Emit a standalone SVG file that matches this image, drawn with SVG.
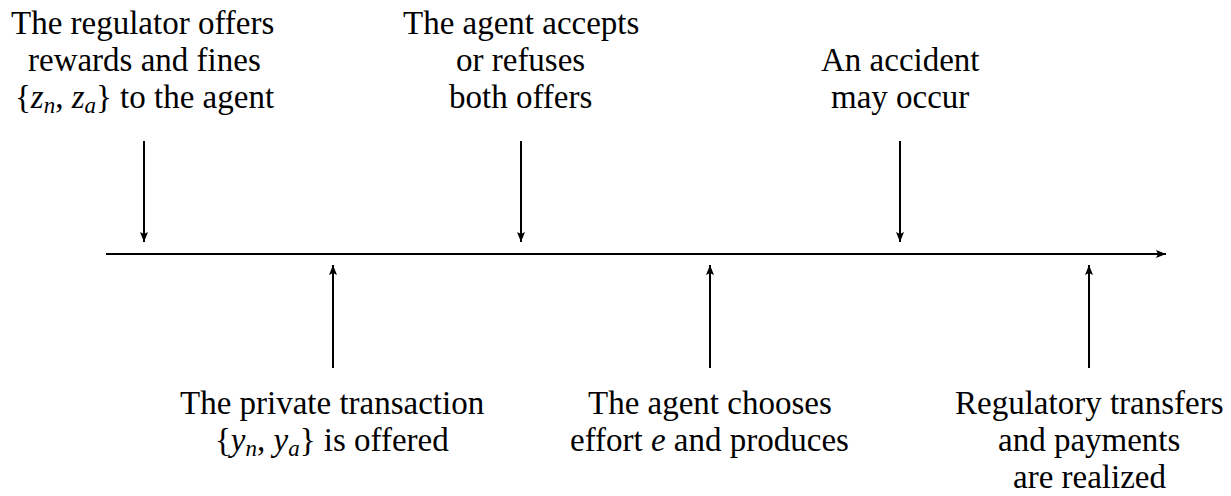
<svg xmlns="http://www.w3.org/2000/svg" width="1231" height="496" viewBox="0 0 1231 496">
<style>
line{stroke:#000;stroke-width:2}
</style>
<defs>
<marker id="ah" viewBox="0 0 10 10" refX="10" refY="5" markerWidth="10" markerHeight="10" markerUnits="userSpaceOnUse" orient="auto">
<path d="M0,1 L10,5 L0,9 L2,5 Z" fill="#000"/>
</marker>
</defs>
<rect width="1231" height="496" fill="#fff"/>
<g id="connectors">
<line id="timeline" x1="106" y1="254" x2="1166" y2="254" marker-end="url(#ah)"/>
<line x1="144" y1="141" x2="144" y2="242" marker-end="url(#ah)"/>
<line x1="521" y1="141" x2="521" y2="242" marker-end="url(#ah)"/>
<line x1="900" y1="141" x2="900" y2="242" marker-end="url(#ah)"/>
<line x1="333" y1="368" x2="333" y2="265" marker-end="url(#ah)"/>
<line x1="710" y1="368" x2="710" y2="265" marker-end="url(#ah)"/>
<line x1="1089" y1="368" x2="1089" y2="265" marker-end="url(#ah)"/>
</g>
<g id="n1">
<text font-family="Liberation Serif" font-size="33" x="11" y="34">The regulator offers</text>
<text font-family="Liberation Serif" font-size="33" x="28" y="71">rewards and fines</text>
<text font-family="Liberation Serif" font-size="33" x="15" y="108">{<tspan font-style="italic">z</tspan><tspan font-style="italic" font-size="23" dy="5">n</tspan><tspan dy="-5">, </tspan><tspan font-style="italic">z</tspan><tspan font-style="italic" font-size="23" dy="5">a</tspan><tspan dy="-5">} to the agent</tspan></text>
</g>
<g id="n2">
<text font-family="Liberation Serif" font-size="33" x="403" y="34">The agent accepts</text>
<text font-family="Liberation Serif" font-size="33" x="456" y="71">or refuses</text>
<text font-family="Liberation Serif" font-size="33" x="449" y="108">both offers</text>
</g>
<g id="n3">
<text font-family="Liberation Serif" font-size="33" x="821" y="71">An accident</text>
<text font-family="Liberation Serif" font-size="33" x="831" y="108">may occur</text>
</g>
<g id="n4">
<text font-family="Liberation Serif" font-size="33" x="180" y="414">The private transaction</text>
<text font-family="Liberation Serif" font-size="33" x="215" y="451">{<tspan font-style="italic">y</tspan><tspan font-style="italic" font-size="23" dy="5">n</tspan><tspan dy="-5">, </tspan><tspan font-style="italic">y</tspan><tspan font-style="italic" font-size="23" dy="5">a</tspan><tspan dy="-5">} is offered</tspan></text>
</g>
<g id="n5">
<text font-family="Liberation Serif" font-size="33" x="588" y="414">The agent chooses</text>
<text font-family="Liberation Serif" font-size="33" x="570" y="451">effort <tspan font-style="italic">e</tspan> and produces</text>
</g>
<g id="n6">
<text font-family="Liberation Serif" font-size="33" x="955" y="414">Regulatory transfers</text>
<text font-family="Liberation Serif" font-size="33" x="998" y="451">and payments</text>
<text font-family="Liberation Serif" font-size="33" x="1013" y="488">are realized</text>
</g>
</svg>
